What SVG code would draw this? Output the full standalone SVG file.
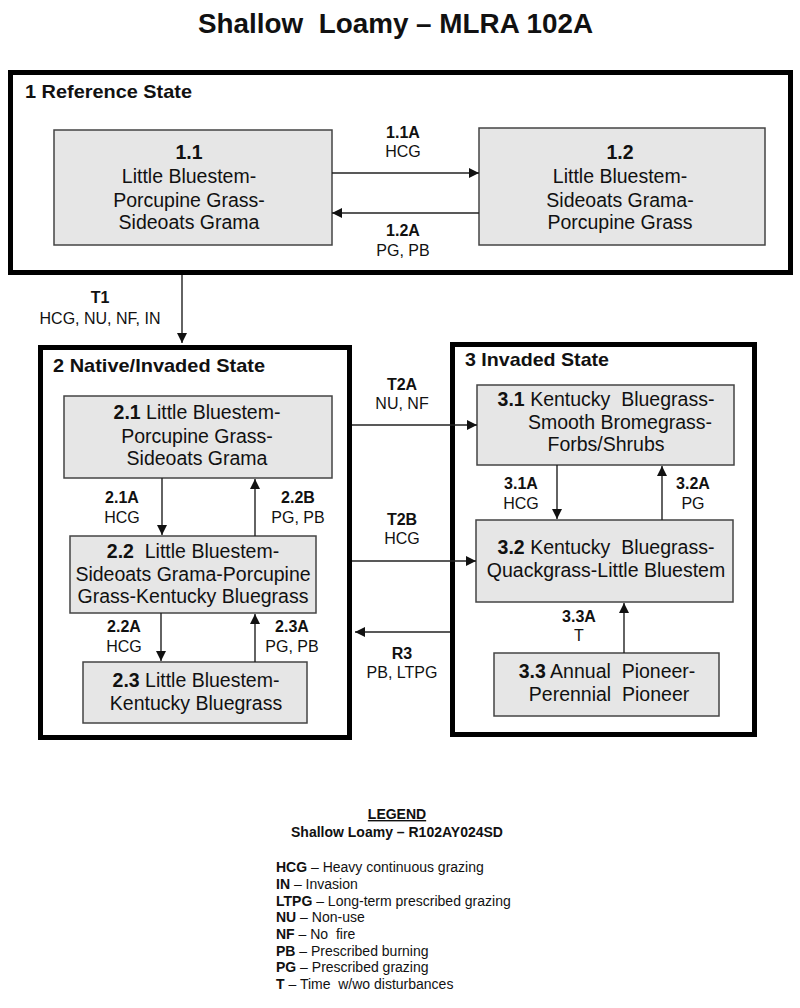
<svg xmlns="http://www.w3.org/2000/svg" width="800" height="1008" viewBox="0 0 800 1008">
<defs>
<marker id="ah" viewBox="0 0 10 10" refX="10" refY="5" markerWidth="10" markerHeight="10" markerUnits="userSpaceOnUse" orient="auto">
<path d="M0,0 L10,5 L0,10 z" fill="#111"/>
</marker>
<style>
text{font-family:"Liberation Sans",Arial,sans-serif;fill:#111}
.pre{white-space:pre}
.title{font-size:27px;font-weight:bold}
.state{fill:none;stroke:#000;stroke-width:5}
.shead{font-size:18.5px;font-weight:bold}
.node{fill:#e6e6e6;stroke:#444;stroke-width:1.5}
.nt{font-size:19.5px;text-anchor:middle}
.b{font-weight:bold}
.lab{font-size:16px;text-anchor:middle}
.conn{stroke:#222;stroke-width:1.4;fill:none;marker-end:url(#ah)}
.leg{font-size:14px}
.legh{font-size:14px;font-weight:bold;text-anchor:middle}
</style>
</defs>
<rect width="800" height="1008" fill="#fff"/>
<text class="title pre" x="198" y="33" textLength="395" lengthAdjust="spacingAndGlyphs">Shallow  Loamy – MLRA 102A</text>

<g id="state1">
<rect class="state" x="10.5" y="72.5" width="780" height="200"/>
<text class="shead" x="25" y="98" textLength="167" lengthAdjust="spacingAndGlyphs">1 Reference State</text>
</g>
<g id="state2">
<rect class="state" x="40.5" y="347.5" width="309" height="390"/>
<text class="shead" x="53" y="372" textLength="212" lengthAdjust="spacingAndGlyphs">2 Native/Invaded State</text>
</g>
<g id="state3">
<rect class="state" x="452.5" y="344.5" width="302" height="390"/>
<text class="shead" x="465" y="366" textLength="144" lengthAdjust="spacingAndGlyphs">3 Invaded State</text>
</g>

<g id="n11">
<rect class="node" x="54" y="130" width="278" height="115"/>
<text class="nt b" x="189" y="159">1.1</text>
<text class="nt" x="189" y="183">Little Bluestem-</text>
<text class="nt" x="189" y="207">Porcupine Grass-</text>
<text class="nt" x="189" y="229">Sideoats Grama</text>
</g>
<g id="n12">
<rect class="node" x="479" y="128" width="286" height="117"/>
<text class="nt b" x="620" y="159">1.2</text>
<text class="nt" x="620" y="183">Little Bluestem-</text>
<text class="nt" x="620" y="207">Sideoats Grama-</text>
<text class="nt" x="620" y="229">Porcupine Grass</text>
</g>
<g id="n21">
<rect class="node" x="64" y="396" width="268" height="82"/>
<text class="nt" x="197" y="419"><tspan class="b">2.1</tspan> Little Bluestem-</text>
<text class="nt" x="197" y="443">Porcupine Grass-</text>
<text class="nt" x="197" y="465">Sideoats Grama</text>
</g>
<g id="n22">
<rect class="node" x="70" y="536" width="246" height="77"/>
<text class="nt pre" x="193" y="558"><tspan class="b">2.2</tspan>  Little Bluestem-</text>
<text class="nt" x="193" y="581">Sideoats Grama-Porcupine</text>
<text class="nt" x="193" y="603">Grass-Kentucky Bluegrass</text>
</g>
<g id="n23">
<rect class="node" x="83" y="662" width="224" height="61"/>
<text class="nt" x="196" y="687"><tspan class="b">2.3</tspan> Little Bluestem-</text>
<text class="nt" x="196" y="710">Kentucky Bluegrass</text>
</g>
<g id="n31">
<rect class="node" x="477" y="385" width="257" height="80"/>
<text class="nt pre" x="606" y="406"><tspan class="b">3.1</tspan> Kentucky  Bluegrass-</text>
<text class="nt" x="620" y="429">Smooth Bromegrass-</text>
<text class="nt" x="606" y="451">Forbs/Shrubs</text>
</g>
<g id="n32">
<rect class="node" x="476" y="520" width="257" height="82"/>
<text class="nt pre" x="606" y="554"><tspan class="b">3.2</tspan> Kentucky  Bluegrass-</text>
<text class="nt" x="606" y="577">Quackgrass-Little Bluestem</text>
</g>
<g id="n33">
<rect class="node" x="494" y="653" width="225" height="63"/>
<text class="nt pre" x="607" y="678"><tspan class="b">3.3</tspan> Annual  Pioneer-</text>
<text class="nt pre" x="609" y="701">Perennial  Pioneer</text>
</g>

<g id="connectors">
<line class="conn" x1="332" y1="173" x2="479" y2="173"/>
<line class="conn" x1="479" y1="213" x2="332" y2="213"/>
<line class="conn" x1="182" y1="275" x2="182" y2="343"/>
<line class="conn" x1="162" y1="478" x2="162" y2="535"/>
<line class="conn" x1="255" y1="536" x2="255" y2="479"/>
<line class="conn" x1="161" y1="613" x2="161" y2="661"/>
<line class="conn" x1="255" y1="662" x2="255" y2="614"/>
<line class="conn" x1="352" y1="425" x2="477" y2="425"/>
<line class="conn" x1="352" y1="561" x2="476" y2="561"/>
<line class="conn" x1="450" y1="632" x2="355" y2="632"/>
<line class="conn" x1="557" y1="465" x2="557" y2="519"/>
<line class="conn" x1="662" y1="520" x2="662" y2="466"/>
<line class="conn" x1="624" y1="653" x2="624" y2="603"/>
<text class="lab b" x="403" y="138">1.1A</text>
<text class="lab" x="403" y="157">HCG</text>
<text class="lab b" x="403" y="236">1.2A</text>
<text class="lab" x="403" y="256">PG, PB</text>
<text class="lab b" x="100" y="303">T1</text>
<text class="lab" x="100" y="324">HCG, NU, NF, IN</text>
<text class="lab b" x="122" y="503">2.1A</text>
<text class="lab" x="122" y="523">HCG</text>
<text class="lab b" x="298" y="503">2.2B</text>
<text class="lab" x="298" y="523">PG, PB</text>
<text class="lab b" x="124" y="632">2.2A</text>
<text class="lab" x="124" y="652">HCG</text>
<text class="lab b" x="292" y="632">2.3A</text>
<text class="lab" x="292" y="652">PG, PB</text>
<text class="lab b" x="402" y="390">T2A</text>
<text class="lab" x="402" y="409">NU, NF</text>
<text class="lab b" x="402" y="525">T2B</text>
<text class="lab" x="402" y="544">HCG</text>
<text class="lab b" x="402" y="659">R3</text>
<text class="lab" x="402" y="678">PB, LTPG</text>
<text class="lab b" x="521" y="489">3.1A</text>
<text class="lab" x="521" y="509">HCG</text>
<text class="lab b" x="693" y="489">3.2A</text>
<text class="lab" x="693" y="509">PG</text>
<text class="lab b" x="579" y="622">3.3A</text>
<text class="lab" x="579" y="641">T</text>
</g>

<g id="legend">
<text class="legh" x="397" y="819" text-decoration="underline">LEGEND</text>
<text class="legh" x="397" y="837">Shallow Loamy – R102AY024SD</text>
<text class="leg" x="276" y="872"><tspan font-weight="bold">HCG</tspan> – Heavy continuous grazing</text>
<text class="leg" x="276" y="889"><tspan font-weight="bold">IN</tspan> – Invasion</text>
<text class="leg" x="276" y="906"><tspan font-weight="bold">LTPG</tspan> – Long-term prescribed grazing</text>
<text class="leg" x="276" y="922"><tspan font-weight="bold">NU</tspan> – Non-use</text>
<text class="leg pre" x="276" y="939"><tspan font-weight="bold">NF</tspan> – No  fire</text>
<text class="leg" x="276" y="956"><tspan font-weight="bold">PB</tspan> – Prescribed burning</text>
<text class="leg" x="276" y="972"><tspan font-weight="bold">PG</tspan> – Prescribed grazing</text>
<text class="leg pre" x="276" y="989"><tspan font-weight="bold">T</tspan> – Time  w/wo disturbances</text>
</g>
</svg>
